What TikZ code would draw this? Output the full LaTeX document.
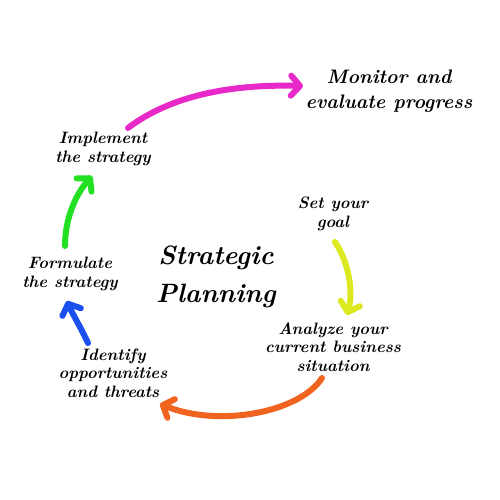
\documentclass[tikz,border=0pt]{standalone}
\usetikzlibrary{arrows.meta}
\definecolor{cmag}{RGB}{232,40,200}
\definecolor{cgreen}{RGB}{34,224,34}
\definecolor{cblue}{RGB}{26,80,240}
\definecolor{corange}{RGB}{240,100,32}
\definecolor{cyellow}{RGB}{220,232,32}
\begin{document}
\begin{tikzpicture}[x=1pt,y=-1pt,
  lbl/.style={font=\fontsize{16.5}{18.5}\selectfont\bfseries\itshape, align=center, inner sep=0pt},
  arr/.style={line width=6pt, line cap=round,
    -{Straight Barb[length=9pt,width=20pt,line cap=round,line join=round]}}]
\useasboundingbox (0,0) rectangle (500,500);
\fill[white] (0,0) rectangle (500,500);

\node[lbl, font=\fontsize{19.5}{25}\selectfont\bfseries\itshape] (monitor) at (389,91) {Monitor and\\evaluate progress};
\node[lbl] (implement) at (103,149) {Implement\\the strategy};
\node[lbl] (formulate) at (70,274) {Formulate\\the strategy};
\node[lbl] (identify) at (113,373) {Identify\\opportunities\\and threats};
\node[lbl] (setgoal) at (333,214) {Set your\\goal};
\node[lbl] (analyze) at (333,347) {Analyze your\\current business\\situation};
\node[lbl, font=\fontsize{26.5}{38}\selectfont\bfseries\itshape] (title) at (216,277) {Strategic\\Planning};

\coordinate (m1) at (128,128); \coordinate (m2) at (303,86);
\coordinate (g1) at (65,246);  \coordinate (g2) at (92,176);
\coordinate (b1) at (88,343);  \coordinate (b2) at (67,301);
\coordinate (o1) at (322,378); \coordinate (o2) at (160,404);
\coordinate (y1) at (335,242); \coordinate (y2) at (347,315);

\draw[arr, cmag] (m1) .. controls (170,96) and (230,84) .. (m2);
\draw[arr, cgreen] (g1) .. controls (65,218) and (76,194) .. (g2);
\draw[arr, cblue] (b1) .. controls (80,326) and (72,313) .. (b2);
\draw[arr, corange] (o1) .. controls (300,412) and (220,428) .. (o2);
\draw[arr, cyellow] (y1) .. controls (350,264) and (353,294) .. (y2);
\end{tikzpicture}
\end{document}
